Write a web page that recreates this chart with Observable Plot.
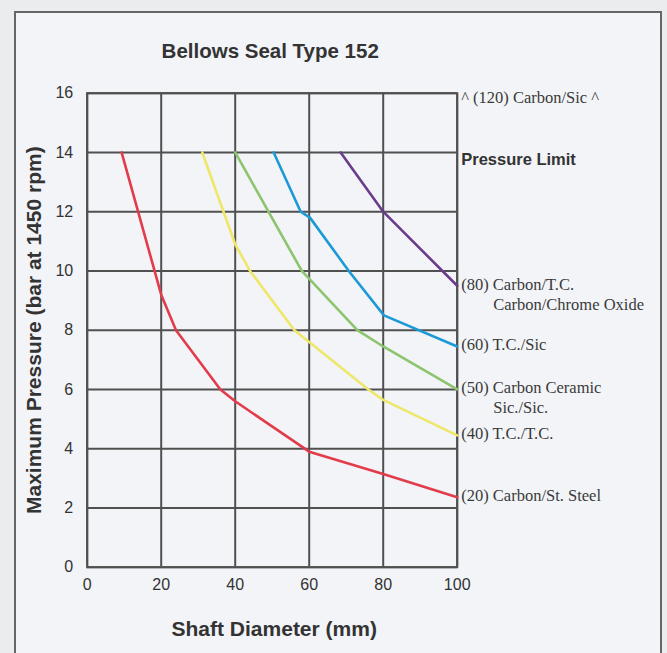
<!DOCTYPE html>
<html><head><meta charset="utf-8">
<script src="https://cdn.jsdelivr.net/npm/d3@7"></script>
<script src="https://cdn.jsdelivr.net/npm/@observablehq/plot@0.6"></script>
<style>
html,body{margin:0;padding:0;background:#eaecee;width:667px;height:653px;overflow:hidden;}
#wrap{position:relative;width:667px;height:653px;}
#panel{position:absolute;left:14px;top:11px;width:644px;height:660px;border:2px solid #666;background:#f2f4f7;}
#chart{position:absolute;left:0;top:0;}
</style></head><body>
<div id="wrap"><div id="panel"></div><div id="chart"></div></div>
<script>
const title = "Bellows Seal Type 152";
const xLabel = "Shaft Diameter (mm)";
const yLabel = "Maximum Pressure (bar at 1450 rpm)";
const xTicks = [0, 20, 40, 60, 80, 100];
const yTicks = [0, 2, 4, 6, 8, 10, 12, 14, 16];

const seriesKeys = ["20", "40", "50", "60", "80"];
const seriesColors = ["#e23b4a", "#eee76a", "#8dc46e", "#1b9ad6", "#6b3c8c"];
const firstLines = ["(20) Carbon/St. Steel", "(40) T.C./T.C.", "(50) Carbon Ceramic", "(60) T.C./Sic", "(80) Carbon/T.C."];
const secondLines = ["", "", "Sic./Sic.", "", "Carbon/Chrome Oxide"];

const diam20 = [9.3, 20, 24, 36, 40, 60, 80, 100];
const pres20 = [14, 9.2, 8, 6, 5.6, 3.9, 3.15, 2.36];
const diam40 = [31.1, 40, 44, 56, 60, 76, 80, 100];
const pres40 = [14, 10.9, 10, 8, 7.6, 6, 5.65, 4.45];
const diam50 = [40, 58, 73, 80, 100];
const pres50 = [14, 10, 8, 7.45, 6];
const diam60 = [50.4, 57.7, 60.2, 70.7, 80.2, 100];
const pres60 = [14, 12, 11.8, 10, 8.5, 7.45];
const diam80 = [68.5, 80, 100];
const pres80 = [14, 12, 9.5];

const topNote = "^ (120) Carbon/Sic ^";
const topNoteY = 16;
const limitNote = "Pressure Limit";
const limitY = 14;

const diams = [diam20, diam40, diam50, diam60, diam80];
const press = [pres20, pres40, pres50, pres60, pres80];
const rows = [];
seriesKeys.forEach((k, i) => diams[i].forEach((d, j) => rows.push({key: k, x: d, y: press[i][j]})));
const ends = seriesKeys.map((k, i) => ({key: k, x: diams[i][diams[i].length - 1], y: press[i][press[i].length - 1], l1: firstLines[i], l2: secondLines[i]}));

const serif = "'Liberation Serif', 'Times New Roman', serif";
const sans = "'Liberation Sans', Arial, Helvetica, sans-serif";

const chart = Plot.plot({
  width: 667, height: 653,
  marginLeft: 86.7, marginRight: 210.3, marginTop: 92.7, marginBottom: 86.3,
  style: {background: "transparent", fontFamily: sans, fontSize: "16px", color: "#333"},
  x: {domain: [0, 100], label: null},
  y: {domain: [0, 16], label: null},
  color: {domain: seriesKeys, range: seriesColors},
  marks: [
    Plot.gridX(xTicks, {stroke: "#505050", strokeOpacity: 1, strokeWidth: 2}),
    Plot.gridY(yTicks, {stroke: "#505050", strokeOpacity: 1, strokeWidth: 2}),
    Plot.frame({stroke: "#505050", strokeWidth: 2}),
    Plot.axisX({ticks: xTicks, tickSize: 0, tickPadding: 11, fontSize: 16, fill: "#333", label: null}),
    Plot.axisY({ticks: yTicks, tickSize: 0, tickPadding: 14, fontSize: 16, fill: "#333", label: null}),
    Plot.line(rows, {x: "x", y: "y", z: "key", stroke: "key", strokeWidth: 2.6, strokeLinejoin: "round"}),
    Plot.text(ends, {x: "x", y: "y", text: "l1", textAnchor: "start", lineAnchor: "middle", dx: 4, dy: -1.5, fontFamily: serif, fontSize: 16.5, fill: "#3a3a3a"}),
    Plot.text(ends.filter(d => d.l2), {x: "x", y: "y", text: "l2", textAnchor: "start", lineAnchor: "middle", dx: 36, dy: 18.5, fontFamily: serif, fontSize: 16.5, fill: "#3a3a3a"}),
    Plot.text([topNote], {x: 100, y: topNoteY, text: d => d, textAnchor: "start", lineAnchor: "middle", dx: 4, dy: 5, fontFamily: serif, fontSize: 16.5, fill: "#3a3a3a"}),
    Plot.text([limitNote], {x: 100, y: limitY, text: d => d, textAnchor: "start", lineAnchor: "middle", dx: 4, dy: 7, fontFamily: sans, fontWeight: "bold", fontSize: 16.5, fill: "#333"}),
    Plot.text([title], {frameAnchor: "top", text: d => d, textAnchor: "middle", lineAnchor: "middle", dx: -2, dy: -42, fontFamily: sans, fontWeight: "bold", fontSize: 20.5, fill: "#333"}),
    Plot.text([xLabel], {frameAnchor: "bottom", text: d => d, textAnchor: "middle", lineAnchor: "middle", dx: 2, dy: 61.6, fontFamily: sans, fontWeight: "bold", fontSize: 21, fill: "#333"}),
    Plot.text([yLabel], {frameAnchor: "left", text: d => d, rotate: -90, textAnchor: "middle", lineAnchor: "middle", dx: -52.7, fontFamily: sans, fontWeight: "bold", fontSize: 21, fill: "#333"})
  ]
});
document.getElementById("chart").appendChild(chart);
</script>
</body></html>
